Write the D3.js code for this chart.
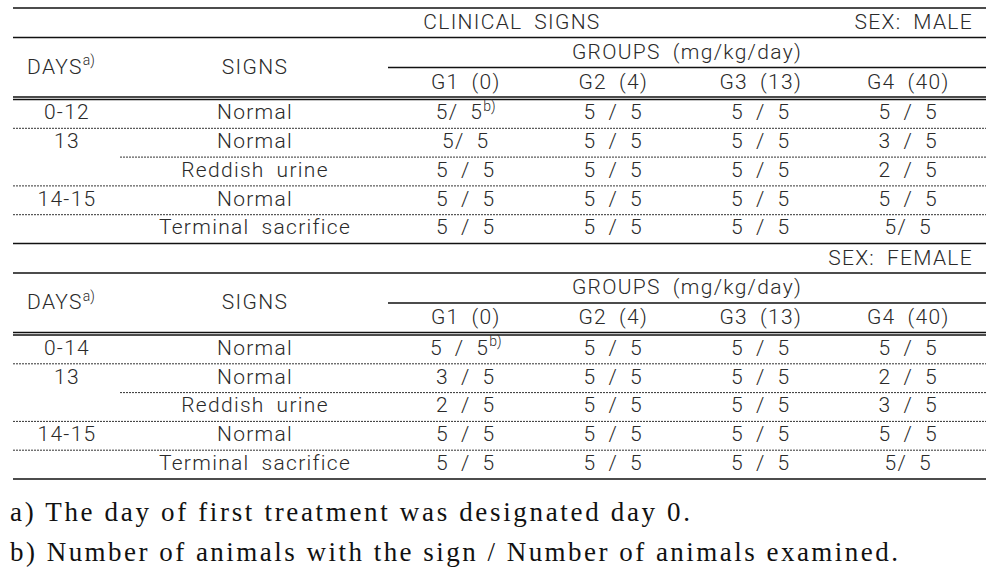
<!DOCTYPE html>
<html><head><meta charset="utf-8">
<script src="https://cdn.jsdelivr.net/npm/d3@7"></script>
<style>
body{margin:0;background:#fff;}
svg{display:block;}
</style></head>
<body>
<script>
// ---- data ----
const title = "CLINICAL SIGNS";
const sexLabels = ["SEX: MALE", "SEX: FEMALE"];
const groupTitle = "GROUPS (mg/kg/day)";
const groups = ["G1 (0)", "G2 (4)", "G3 (13)", "G4 (40)"];
const signs = ["Normal", "Normal", "Reddish urine", "Normal", "Terminal sacrifice"];
const maleDays = ["0-12", "13", "", "14-15", ""];
const femaleDays = ["0-14", "13", "", "14-15", ""];
const maleCells = [
  ["5/ 5", "5 / 5", "5 / 5", "5 / 5"],
  ["5/ 5", "5 / 5", "5 / 5", "3 / 5"],
  ["5 / 5", "5 / 5", "5 / 5", "2 / 5"],
  ["5 / 5", "5 / 5", "5 / 5", "5 / 5"],
  ["5 / 5", "5 / 5", "5 / 5", "5/ 5"]
];
const femaleCells = [
  ["5 / 5", "5 / 5", "5 / 5", "5 / 5"],
  ["3 / 5", "5 / 5", "5 / 5", "2 / 5"],
  ["2 / 5", "5 / 5", "5 / 5", "3 / 5"],
  ["5 / 5", "5 / 5", "5 / 5", "5 / 5"],
  ["5 / 5", "5 / 5", "5 / 5", "5/ 5"]
];
// separator after each row: "full" dotted, "partial" dotted, "solid"
const rowRules = ["full", "partial", "full", "full", "solid"];
const footnotes = [
  "a) The day of first treatment was designated day 0.",
  "b) Number of animals with the sign / Number of animals examined."
];

// ---- layout ----
const W = 1001, H = 575;
const left = 13, right = 986;
const sansFont = "Roboto, 'Liberation Sans', Arial, sans-serif";
const svg = d3.select("body").append("svg").attr("width", W).attr("height", H);

const x = d3.scaleBand().domain(groups).range([392, 982]);
const daysX = 67, signsX = 255, groupsLeft = 388, partialLeft = 120;
const rowH = 28.8;

function hline(y, x1, x2, style) {
  const l = svg.append("line").attr("x1", x1).attr("x2", x2).attr("y1", y).attr("y2", y)
    .attr("stroke", "#111").attr("stroke-width", 1.3);
  if (style === "dot") l.attr("stroke-dasharray", "2,1").attr("stroke-width", 1).attr("stroke", "#333");
  return l;
}
function txt(xp, yp, s, anchor) {
  return svg.append("text").attr("x", xp).attr("y", yp).attr("dy", "0.3em")
    .attr("text-anchor", anchor || "middle")
    .attr("font-family", sansFont).attr("font-size", 21).attr("font-weight", 300)
    .attr("letter-spacing", 1.3).attr("word-spacing", 5.5)
    .attr("fill", "#2a2a2a").text(s);
}
function sup(textSel, s) {
  textSel.append("tspan").attr("font-size", 14).attr("letter-spacing", 0)
    .attr("dy", "-0.6em").text(s);
}

function section(o, sexLabel, days, cells, showTitle) {
  if (showTitle) {
    hline(o, left, right);
    txt(512, o + 15, title);
  }
  txt(973, o + 15, sexLabel, "end");
  hline(o + 29.5, left, right);
  txt((groupsLeft + right) / 2, o + 44.5, groupTitle);
  hline(o + 59.5, groupsLeft, right);
  groups.forEach(g => txt(x(g) + x.bandwidth() / 2, o + 74.5, g));
  const d = txt(daysX - 6, o + 59.5, "DAYS");
  sup(d, "a)");
  txt(signsX, o + 59.5, "SIGNS");
  hline(o + 89, left, right);
  hline(o + 91.5, left, right);
  const y0 = o + 91.5;
  const y = d3.scaleLinear().domain([0, signs.length]).range([y0, y0 + rowH * signs.length]);
  signs.forEach((s, i) => {
    const cy = (y(i) + y(i + 1)) / 2 - 1;
    if (days[i]) txt(daysX, cy, days[i]);
    txt(signsX, cy, s);
    cells[i].forEach((c, j) => {
      const t = txt(x(groups[j]) + x.bandwidth() / 2, cy, c);
      if (i === 0 && j === 0) sup(t, "b)");
    });
    const rule = rowRules[i];
    if (rule === "solid") hline(y(i + 1), left, right);
    else hline(y(i + 1), rule === "partial" ? partialLeft : left, right, "dot");
  });
  return y(signs.length);
}

const bottomMale = section(8, sexLabels[0], maleDays, maleCells, true);
section(bottomMale, sexLabels[1], femaleDays, femaleCells, false);

// footnotes
const fnWidths = [680, 888];
footnotes.forEach((f, i) => {
  svg.append("text").attr("x", 10).attr("y", 521 + i * 40)
    .attr("font-family", "'Liberation Serif', 'Times New Roman', serif")
    .attr("font-size", 27).attr("fill", "#111")
    .attr("textLength", fnWidths[i]).attr("lengthAdjust", "spacing")
    .text(f);
});
</script>
</body></html>
